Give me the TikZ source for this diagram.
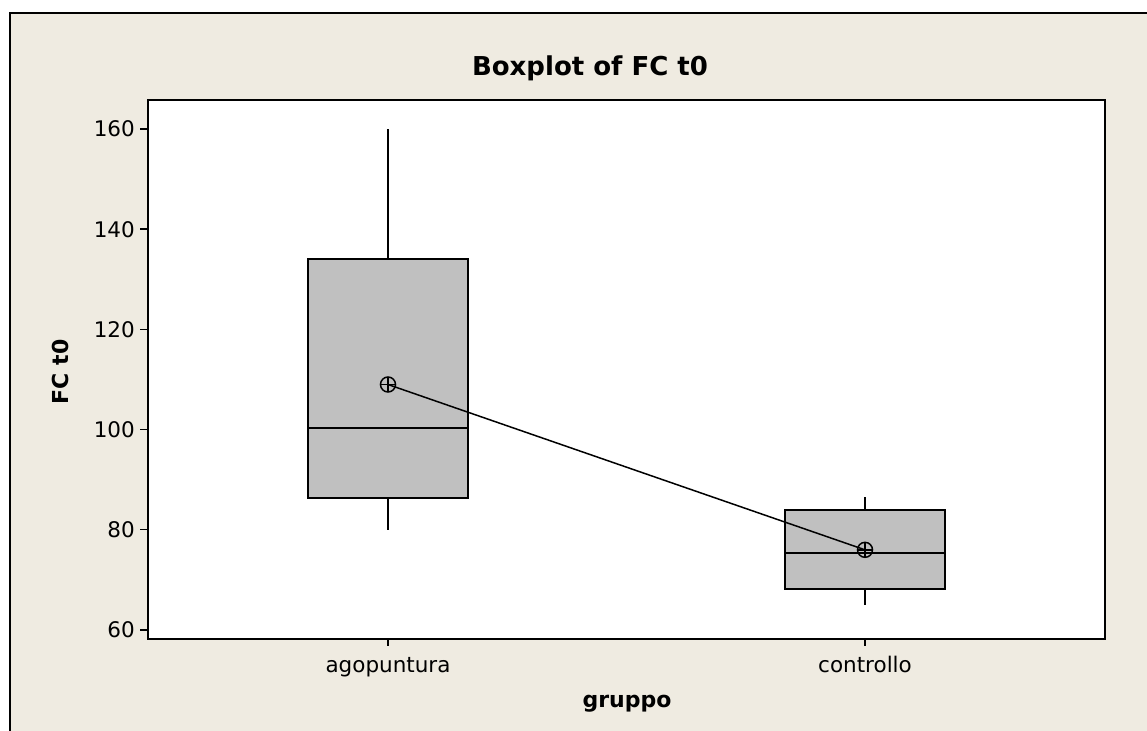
\documentclass[tikz,border=0pt]{standalone}
\usepackage{fontspec}
\setmainfont{DejaVu Sans}
\definecolor{panel}{RGB}{239,235,225}
\definecolor{boxgray}{RGB}{192,192,192}
\tikzset{
  frameline/.style={line width=2bp, black},
  boxstyle/.style={draw=black, fill=boxgray, line width=1.6bp},
  whisker/.style={line width=1.6bp},
  tickline/.style={line width=1.4bp},
  ticklabel/.style={font=\fontsize{21.5bp}{24bp}\selectfont, inner sep=0pt},
  axislabel/.style={font=\fontsize{22bp}{26bp}\selectfont\bfseries, inner sep=0pt},
  meanmark/.style={line width=1.5bp},
}
\begin{document}
\begin{tikzpicture}[x=1bp, y=1bp]
\useasboundingbox (0,0) rectangle (1147,731);
% panel background and its frame
\fill[panel] (10,0) rectangle (1147,718);
\draw[frameline] (10,0) -- (10,718) -- (1147,718);
% plotting region
\draw[frameline, fill=white] (148,92) rectangle (1105,631);
% title
\node[axislabel, font=\fontsize{26bp}{30bp}\selectfont\bfseries, anchor=base] (title) at (590,655) {Boxplot of FC t0};
% axis titles
\node[axislabel, anchor=base] (xlab) at (627,23) {gruppo};
\node[axislabel, rotate=90] (ylab) at (60,359) {FC t0};
% category ticks and labels
\foreach \cx/\nm/\txt in {388/ago/agopuntura, 865/con/controllo}{
  \draw[tickline] (\cx,92) -- (\cx,85);
  \node[ticklabel, anchor=base] (lab-\nm) at (\cx,58) {\txt};
}
% data coordinates: value v sits at 5.01v - 199.6
\begin{scope}[y=5.01bp, yshift=-199.6bp]
  \foreach \v in {60,80,...,160}{
    \draw[tickline] (140,\v) -- (148,\v);
    \node[ticklabel, anchor=east] (yt-\v) at (135,\v) {\v};
  }
  % agopuntura
  \draw[whisker] (388,134) -- (388,160);
  \draw[whisker] (388,86.4) -- (388,80);
  \draw[boxstyle] (308,86.4) rectangle (468,134);
  \draw[whisker] (308,100.3) -- (468,100.3);
  % controllo
  \draw[whisker] (865,84) -- (865,86.5);
  \draw[whisker] (865,68.2) -- (865,65);
  \draw[boxstyle] (785,68.2) rectangle (945,84);
  \draw[whisker] (785,75.4) -- (945,75.4);
  % means
  \coordinate (m1) at (388,109);
  \coordinate (m2) at (865,76);
  \draw[line width=1.5bp] (m1) -- (m2);
  \foreach \m in {m1,m2}{
    \draw[meanmark] (\m) circle[radius=7.5bp];
    \draw[meanmark] ([xshift=-7.5bp]\m) -- ([xshift=7.5bp]\m);
    \draw[meanmark] ([yshift=-7.5bp]\m) -- ([yshift=7.5bp]\m);
  }
\end{scope}
\end{tikzpicture}
\end{document}
